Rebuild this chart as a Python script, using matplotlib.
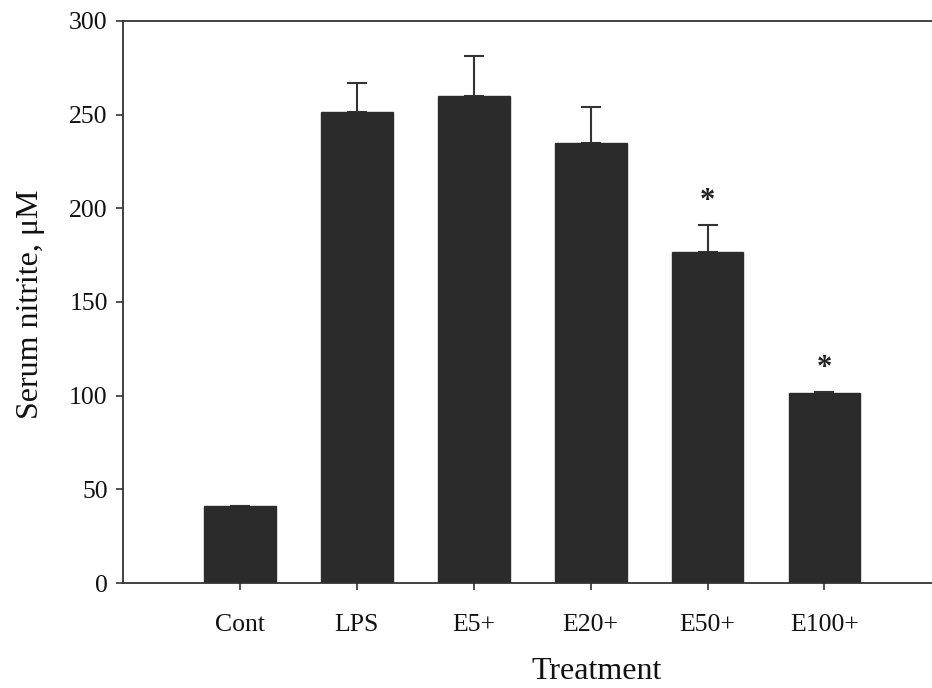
import numpy as np
import matplotlib
matplotlib.use("Agg")
import matplotlib.pyplot as plt

# data
treatments = ["Cont", "LPS", "E5+", "E20+", "E50+", "E100+"]
nitrite = [41, 251.5, 260, 235, 176.5, 101.5]
sem = [0, 15.5, 21.5, 19, 14.5, 0.5]
significant = [False, False, False, False, True, True]

plt.rcParams['font.family'] = ['Liberation Serif', 'DejaVu Serif']

fig = plt.figure(figsize=(9.32, 6.88), dpi=100)
ax = fig.add_axes([0.132, 0.1526, 0.868, 0.817])

x = np.arange(len(treatments))
ax.bar(x, nitrite, width=0.615, color='#2b2b2b', edgecolor='#2b2b2b', zorder=2)
ax.errorbar(x, nitrite, yerr=[np.zeros(len(sem)), sem], fmt='none',
            ecolor='#333333', elinewidth=1.5, capsize=7, capthick=1.5, zorder=1)

for xi, v, e, s in zip(x, nitrite, sem, significant):
    if s:
        ax.text(xi, v + e + 5, '*', ha='center', va='bottom', fontsize=22,
                fontweight='bold', color='#222222')

ax.set_xlim(-1, 5.92)
ax.set_ylim(0, 300)
ax.set_yticks(range(0, 301, 50))
ax.set_xticks(x)
ax.set_xticklabels(treatments)

for sp in ['left', 'bottom', 'top']:
    ax.spines[sp].set_linewidth(1.3)
    ax.spines[sp].set_color('#333333')
ax.spines['right'].set_visible(False)

ax.tick_params(axis='both', direction='out', length=5, width=1.2, colors='#333333',
               labelsize=18.5, labelcolor='#111111')
ax.tick_params(axis='y', pad=6)
ax.tick_params(axis='x', pad=17)

ax.set_xlabel('Treatment', fontsize=23, color='#111111')
ax.set_ylabel('Serum nitrite, \u03bcM', fontsize=23, color='#111111')
ax.xaxis.set_label_coords(0.586, -0.131)
ax.yaxis.set_label_coords(-0.097, 0.496)

fig.savefig('out.png', dpi=100)
